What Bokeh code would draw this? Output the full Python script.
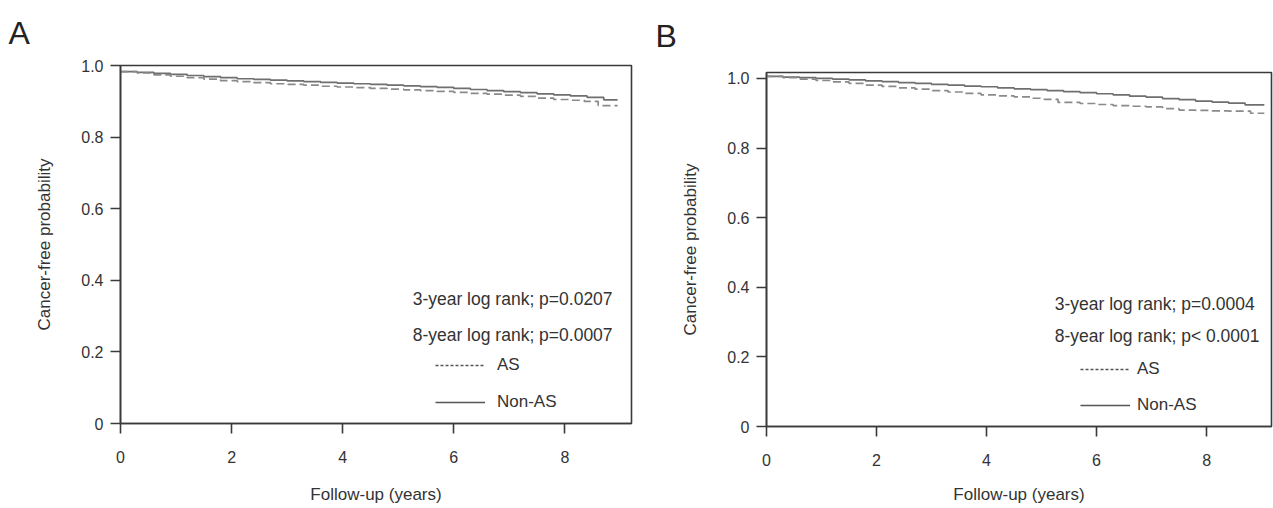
from bokeh.plotting import figure
from bokeh.layouts import row, column
from bokeh.models import Range1d, FixedTicker, Label, Legend, LegendItem
from bokeh.embed import file_html
from bokeh.resources import INLINE

# ---------------- data ----------------
y_tick_values = [0, 0.2, 0.4, 0.6, 0.8, 1.0]
y_tick_labels = ["0", "0.2", "0.4", "0.6", "0.8", "1.0"]
x_tick_values = [0, 2, 4, 6, 8]

# Panel A
A_non_t = [0, 0.3, 0.6, 0.9, 1.2, 1.5, 1.8, 2.1, 2.4, 2.7, 3.0, 3.3, 3.6, 3.9, 4.2, 4.5,
           4.8, 5.1, 5.4, 5.7, 6.0, 6.3, 6.6, 6.9, 7.2, 7.5, 7.8, 8.1, 8.4, 8.7, 8.95]
A_non_s = [0.983, 0.981, 0.978, 0.975, 0.972, 0.969, 0.966, 0.963, 0.961, 0.959, 0.957,
           0.955, 0.953, 0.951, 0.949, 0.947, 0.945, 0.943, 0.941, 0.939, 0.936, 0.933,
           0.930, 0.927, 0.924, 0.921, 0.918, 0.915, 0.911, 0.904, 0.904]
A_as_t = [0, 0.3, 0.6, 0.9, 1.2, 1.5, 1.8, 2.1, 2.4, 2.7, 3.0, 3.3, 3.6, 3.9, 4.2, 4.5,
          4.8, 5.1, 5.4, 5.7, 6.0, 6.3, 6.6, 6.9, 7.2, 7.5, 7.8, 8.1, 8.35, 8.6, 8.95]
A_as_s = [0.983, 0.979, 0.974, 0.970, 0.966, 0.962, 0.958, 0.955, 0.952, 0.949, 0.947,
          0.945, 0.942, 0.940, 0.938, 0.936, 0.934, 0.932, 0.930, 0.928, 0.925, 0.922,
          0.920, 0.917, 0.914, 0.909, 0.905, 0.903, 0.900, 0.888, 0.888]
A_p3 = "3-year log rank; p=0.0207"
A_p8 = "8-year log rank; p=0.0007"

# Panel B
B_non_t = [0, 0.3, 0.6, 0.9, 1.2, 1.5, 1.8, 2.1, 2.4, 2.7, 3.0, 3.3, 3.6, 3.9, 4.2, 4.5,
           4.8, 5.1, 5.4, 5.7, 6.0, 6.3, 6.6, 6.9, 7.2, 7.5, 7.8, 8.1, 8.4, 8.7, 9.05]
B_non_s = [1.006, 1.004, 1.002, 1.000, 0.998, 0.996, 0.993, 0.991, 0.988, 0.986, 0.983,
           0.981, 0.978, 0.976, 0.973, 0.970, 0.968, 0.965, 0.962, 0.959, 0.956, 0.953,
           0.949, 0.946, 0.942, 0.939, 0.935, 0.932, 0.929, 0.924, 0.924]
B_as_t = [0, 0.3, 0.6, 0.9, 1.2, 1.5, 1.8, 2.1, 2.4, 2.7, 3.0, 3.3, 3.6, 3.9, 4.2, 4.5,
          4.8, 5.05, 5.3, 5.7, 6.0, 6.3, 6.6, 6.9, 7.2, 7.5, 7.8, 8.1, 8.4, 8.8, 9.05]
B_as_s = [1.006, 1.002, 0.998, 0.994, 0.990, 0.986, 0.981, 0.977, 0.973, 0.969, 0.965,
          0.961, 0.957, 0.953, 0.950, 0.947, 0.943, 0.940, 0.931, 0.928, 0.925, 0.922,
          0.920, 0.918, 0.913, 0.909, 0.908, 0.907, 0.906, 0.900, 0.900]
B_p3 = "3-year log rank; p=0.0004"
B_p8 = "8-year log rank; p< 0.0001"

series_labels = ["AS", "Non-AS"]
x_label = "Follow-up (years)"
y_label = "Cancer-free probability"

FONT = "Liberation Sans"
AX = "#3a3a3a"
TXT = "#333333"
CURVE_NON = "#6f6f6f"
CURVE_AS = "#8a8a8a"
NAN = float("nan")


def make_panel(letter, t_as, s_as, t_non, s_non, p3, p8, width, x_end, y_end,
               mb_left, mb_right, mb_top, mb_bottom, xlab_standoff, txt_xy, leg_loc,
               leg_standoff, leg_spacing, letter_offset, letter_standoff):
    p = figure(width=width, height=508, x_range=Range1d(0, x_end), y_range=Range1d(0, y_end),
               output_backend="svg", toolbar_location=None,
               min_border_left=mb_left, min_border_right=mb_right,
               min_border_top=mb_top, min_border_bottom=mb_bottom)
    p.xgrid.visible = False
    p.ygrid.visible = False
    p.outline_line_color = AX
    p.outline_line_width = 1.6
    p.outline_line_alpha = 1.0
    p.background_fill_color = "white"
    p.border_fill_color = "white"

    p.title.text = letter
    p.title.align = "left"
    p.title.vertical_align = "top"
    p.title.offset = letter_offset
    p.title.standoff = letter_standoff
    p.title.text_font = FONT
    p.title.text_font_size = "32px"
    p.title.text_font_style = "normal"
    p.title.text_color = "#222222"

    for ax in (p.xaxis[0], p.yaxis[0]):
        ax.axis_line_color = AX
        ax.axis_line_width = 1.6
        ax.major_tick_line_color = AX
        ax.major_tick_line_width = 1.6
        ax.major_tick_out = 10
        ax.major_tick_in = 0
        ax.minor_tick_line_color = None
        ax.major_label_text_font = FONT
        ax.major_label_text_font_size = "16px"
        ax.major_label_text_color = TXT
        ax.axis_label_text_font = FONT
        ax.axis_label_text_font_size = "17px"
        ax.axis_label_text_font_style = "normal"
        ax.axis_label_text_color = TXT

    p.xaxis[0].ticker = FixedTicker(ticks=x_tick_values)
    p.xaxis[0].axis_label = x_label
    p.xaxis[0].major_label_standoff = 17
    p.xaxis[0].axis_label_standoff = xlab_standoff

    p.yaxis[0].ticker = FixedTicker(ticks=y_tick_values)
    p.yaxis[0].major_label_overrides = dict(zip(y_tick_values, y_tick_labels))
    p.yaxis[0].axis_label = y_label
    p.yaxis[0].major_label_standoff = 7
    p.yaxis[0].axis_label_standoff = 24

    p.step(t_non, s_non, mode="after", line_color=CURVE_NON, line_width=1.7)
    p.step(t_as, s_as, mode="after", line_color=CURVE_AS, line_width=1.7, line_dash="8 4")

    # legend sample renderers (a single NaN point: nothing drawn in the plot)
    r_as = p.line([NAN], [NAN], line_color="#555555", line_width=1.3, line_dash="3 2")
    r_non = p.line([NAN], [NAN], line_color="#555555", line_width=1.7)
    legend = Legend(items=[LegendItem(label=series_labels[0], renderers=[r_as]),
                           LegendItem(label=series_labels[1], renderers=[r_non])],
                    location=leg_loc, orientation="vertical",
                    glyph_width=50, glyph_height=20, label_height=20, spacing=leg_spacing,
                    label_standoff=leg_standoff, padding=0, margin=0,
                    border_line_alpha=0, background_fill_alpha=0,
                    label_text_font=FONT, label_text_font_size="17px",
                    label_text_color=TXT)
    p.add_layout(legend)

    (tx, ty3, ty8) = txt_xy
    for txt, ty in ((p3, ty3), (p8, ty8)):
        p.add_layout(Label(x=tx, y=ty, text=txt, text_font=FONT, text_font_size="17.5px",
                           text_color=TXT, text_baseline="middle", text_align="left"))
    return p


pA = make_panel("A", A_as_t, A_as_s, A_non_t, A_non_s, A_p3, A_p8,
                width=648, x_end=9.2, y_end=1.0,
                mb_left=120, mb_right=17, mb_top=65, mb_bottom=85, xlab_standoff=19,
                txt_xy=(5.26, 0.347, 0.246), leg_loc=(315, 11), leg_standoff=12,
                leg_spacing=17, letter_offset=-112, letter_standoff=26)
pB = make_panel("B", B_as_t, B_as_s, B_non_t, B_non_s, B_p3, B_p8,
                width=625, x_end=9.18, y_end=1.017,
                mb_left=118, mb_right=2, mb_top=71, mb_bottom=82, xlab_standoff=16,
                txt_xy=(5.24, 0.352, 0.261), leg_loc=(314, 11), leg_standoff=7,
                leg_spacing=16, letter_offset=-111, letter_standoff=34)

layout = row(column(pA), column(pB))
open("out.html", "w").write(file_html(layout, INLINE))
